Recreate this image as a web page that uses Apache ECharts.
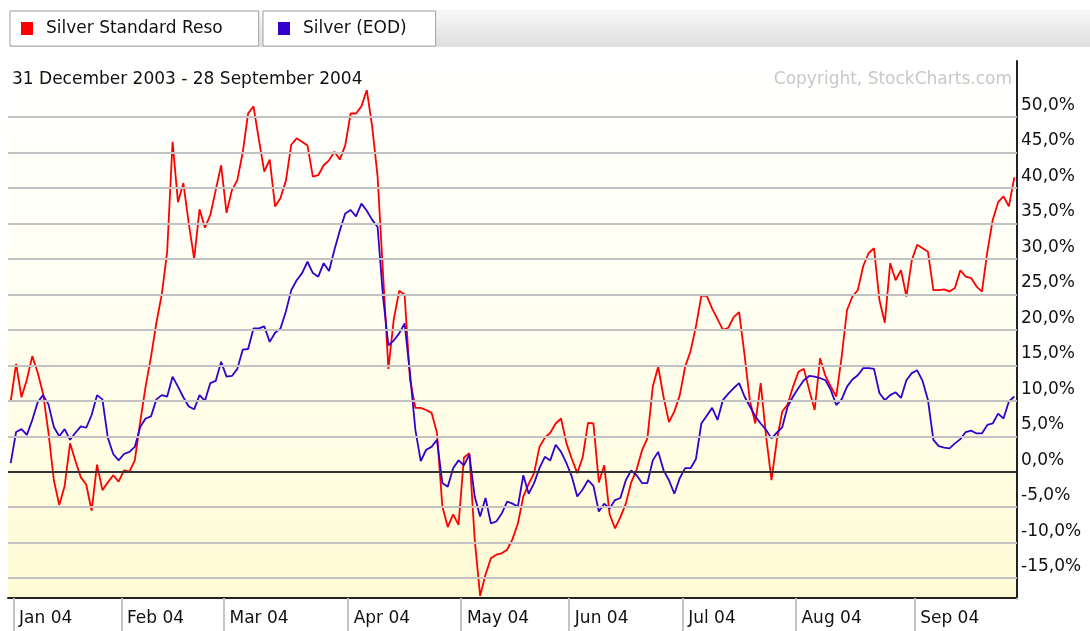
<!DOCTYPE html>
<html lang="en">
<head>
<meta charset="utf-8">
<title>Silver Standard vs Silver</title>
<style>
  * { margin: 0; padding: 0; }
  body { background: #fff; }
  #chart-container { width: 1090px; height: 631px; }
</style>
</head>
<body>
<div id="chart-container"></div>
<script src="https://cdn.jsdelivr.net/npm/echarts@6/dist/echarts.min.js"></script>
<script>
// trading days 31 Dec 2003 .. 28 Sep 2004 (NYSE holidays skipped)
var holidays = ['2004-01-01', '2004-01-19', '2004-02-16', '2004-04-09', '2004-05-31', '2004-06-11', '2004-07-05', '2004-09-06'];
var monthLabels = ['Jan 04', 'Feb 04', 'Mar 04', 'Apr 04', 'May 04', 'Jun 04', 'Jul 04', 'Aug 04', 'Sep 04'];
var yTicks = [-15, -10, -5, 0, 5, 10, 15, 20, 25, 30, 35, 40, 45, 50];

// % change
var silverStandard = [
  9.9, 15.2, 10.5, 13, 16.3, 14, 11, 5.5, -1.2, -4.7,
  -2, 4, 1.5, -0.8, -1.8, -5.5, 1, -2.6, -1.5, -0.5,
  -1.4, 0.2, 0, 1.6, 7, 12, 16.2, 21, 25, 31,
  46.5, 38, 40.7, 35, 30, 37, 34.4, 36.2, 39.7, 43.2,
  36.5, 39.7, 41.1, 45, 50.5, 51.5, 46.8, 42.3, 44, 37.4,
  38.6, 41, 46.1, 47, 46.5, 46, 41.6, 41.8, 43.2, 43.9,
  45.1, 44, 46, 50.5, 50.5, 51.5, 53.8, 48.6, 41.6, 28,
  14.5, 21.5, 25.5, 25, 13, 9, 9, 8.7, 8.3, 5.5,
  -4.9, -7.8, -6, -7.5, 2, 2.6, -9.6, -17.5, -14.5, -12.2,
  -11.7, -11.5, -11, -9.5, -7.3, -3.5, -1.7, -0.2, 3.5, 4.8,
  5.5, 6.8, 7.5, 4, 1.8, -0.2, 2, 6.9, 6.8, -1.5,
  0.9, -6, -8, -6.4, -4.5, -1.5, 0.3, 3, 4.7, 12,
  14.8, 10.5, 7, 8.5, 10.8, 14.8, 17, 20.5, 24.8, 24.8,
  23, 21.5, 20, 20.3, 21.8, 22.5, 16.5, 10, 6.8, 12.5,
  5, -1.2, 4.5, 8.5, 9.5, 12, 14.1, 14.5, 11.5, 8.7,
  16, 13.5, 12, 10.6, 16.2, 22.8, 24.7, 25.6, 29, 30.8,
  31.5, 24.2, 21, 29.4, 27, 28.4, 24.7, 29.8, 32, 31.5,
  31, 25.6, 25.6, 25.7, 25.4, 25.9, 28.4, 27.5, 27.3, 26.1,
  25.4, 31, 35.5, 38, 38.8, 37.4, 41.5
];
var silverEod = [
  1.2, 5.6, 6, 5.2, 7.3, 9.8, 10.8, 9.5, 6.3, 5,
  6, 4.5, 5.5, 6.4, 6.2, 8, 10.8, 10.2, 4.8, 2.5,
  1.6, 2.5, 2.8, 3.5, 6.3, 7.5, 7.8, 10.2, 10.8, 10.6,
  13.4, 12, 10.5, 9.2, 8.8, 10.8, 10, 12.5, 12.8, 15.5,
  13.4, 13.5, 14.5, 17.2, 17.3, 20.2, 20.2, 20.5, 18.3, 19.6,
  20.2, 22.6, 25.6, 27, 28, 29.6, 28, 27.5, 29.4, 28.3,
  31.3, 34, 36.4, 36.9, 36, 37.8, 36.8, 35.5, 34.5, 24.7,
  17.8, 18.5, 19.5, 20.9, 13.9, 5.9, 1.5, 3.1, 3.5, 4.5,
  -1.6, -2.1, 0.5, 1.6, 0.9, 2.4, -3.5, -6.3, -3.7, -7.3,
  -7, -5.9, -4.2, -4.5, -4.9, -0.5, -3.1, -1.6, 0.5, 2.1,
  1.6, 3.8, 2.8, 1.2, -0.7, -3.5, -2.5, -1.2, -2, -5.6,
  -4.5, -5.2, -4, -3.7, -1.2, 0.2, -0.5, -1.6, -1.6, 1.6,
  2.8, 0.2, -1.2, -3.1, -0.9, 0.5, 0.5, 1.8, 6.8, 7.9,
  9, 7.3, 10.1, 11, 11.8, 12.5, 10.6, 9.2, 7.8, 6.8,
  5.9, 4.7, 5.5, 6.3, 9.2, 10.6, 11.8, 12.9, 13.5, 13.4,
  13.2, 12.9, 11.5, 9.4, 10.2, 12, 13, 13.6, 14.6, 14.6,
  14.5, 11.1, 10.1, 10.8, 11.2, 10.4, 12.9, 13.9, 14.3, 12.8,
  10.1, 4.5, 3.6, 3.4, 3.3, 4, 4.6, 5.6, 5.8, 5.4,
  5.4, 6.6, 6.8, 8.2, 7.5, 9.9, 10.6
];

function pad(n) { return n < 10 ? '0' + n : '' + n; }
var dates = [];
var d = new Date(Date.UTC(2003, 11, 31));
var end = new Date(Date.UTC(2004, 8, 28));
while (d <= end) {
  var s = d.getUTCFullYear() + '-' + pad(d.getUTCMonth() + 1) + '-' + pad(d.getUTCDate());
  var wd = d.getUTCDay();
  if (wd !== 0 && wd !== 6 && holidays.indexOf(s) < 0) dates.push(s);
  d.setUTCDate(d.getUTCDate() + 1);
}
// first trading day of each month
var monthStart = {};
for (var i = 1; i < dates.length; i++) {
  if (dates[i].slice(5, 7) !== dates[i - 1].slice(5, 7)) {
    monthStart[i] = monthLabels[parseInt(dates[i].slice(5, 7), 10) - 1];
  }
}
function isMonthStart(idx) { return monthStart[idx] !== undefined; }

var FONT = 'DejaVu Sans';

var dom = document.getElementById('chart-container');
var myChart = echarts.init(dom, null, { renderer: 'canvas' });

var option = {
  animation: false,
  textStyle: { fontFamily: FONT },
  graphic: [
    {
      type: 'rect',
      z: 0,
      shape: { x: 10, y: 10, width: 1080, height: 37 },
      style: {
        fill: new echarts.graphic.LinearGradient(0, 0, 0, 1, [
          { offset: 0, color: '#f8f8f8' },
          { offset: 1, color: '#dedede' }
        ])
      }
    },
    {
      // hide the closing boundary tick under the right axis
      type: 'rect',
      z: 100,
      shape: { x: 1013, y: 600, width: 10, height: 31 },
      style: { fill: '#fff' }
    }
  ],
  title: [
    {
      text: '31 December 2003 - 28 September 2004',
      left: 12,
      top: 71,
      padding: 0,
      textStyle: { fontFamily: FONT, fontSize: 17, fontWeight: 'normal', color: '#111' }
    },
    {
      text: 'Copyright, StockCharts.com',
      right: 78,
      top: 71,
      padding: 0,
      textStyle: { fontFamily: FONT, fontSize: 17, fontWeight: 'normal', color: '#c8c8c8' }
    }
  ],
  legend: [
    {
      data: ['Silver Standard Reso'],
      left: 10,
      top: 11,
      icon: 'rect',
      itemWidth: 12,
      itemHeight: 13,
      padding: [9, 36, 9, 11],
      backgroundColor: '#fff',
      borderColor: '#a0a0a0',
      borderWidth: 1,
      textStyle: { fontFamily: FONT, fontSize: 17, color: '#111', padding: [0, 0, 0, 8] }
    },
    {
      data: ['Silver (EOD)'],
      left: 263,
      top: 11,
      icon: 'rect',
      itemWidth: 12,
      itemHeight: 13,
      padding: [9, 29, 9, 15],
      backgroundColor: '#fff',
      borderColor: '#a0a0a0',
      borderWidth: 1,
      textStyle: { fontFamily: FONT, fontSize: 17, color: '#111', padding: [0, 0, 0, 8] }
    }
  ],
  grid: {
    left: 8,
    right: 73,
    top: 61,
    bottom: 33,
    show: true,
    borderWidth: 0,
    backgroundColor: new echarts.graphic.LinearGradient(0, 0, 0, 1, [
      { offset: 0, color: '#ffffff' },
      { offset: 0.45, color: '#fffff2' },
      { offset: 1, color: '#fffbd4' }
    ])
  },
  xAxis: {
    type: 'category',
    boundaryGap: true,
    data: dates,
    axisLine: { onZero: false, lineStyle: { color: '#222', width: 2 } },
    axisTick: {
      show: true,
      interval: function (idx) { return isMonthStart(idx); },
      length: 33,
      lineStyle: { color: '#c4c4c4', width: 2 }
    },
    axisLabel: {
      interval: function (idx) { return isMonthStart(idx); },
      formatter: function (val, idx) { return monthStart[idx] || ''; },
      align: 'left',
      margin: 12,
      padding: [0, 0, 0, 3],
      fontFamily: FONT,
      fontSize: 17,
      color: '#111'
    },
    splitLine: { show: false }
  },
  yAxis: {
    type: 'value',
    position: 'right',
    min: -17.8,
    max: 57.9,
    splitNumber: 15,
    axisLine: { show: true, lineStyle: { color: '#222', width: 2 } },
    axisTick: { show: false },
    splitLine: { show: false },
    axisLabel: {
      customValues: yTicks,
      margin: 4,
      verticalAlign: 'bottom',
      padding: [0, 0, 3, 0],
      fontFamily: FONT,
      fontSize: 17,
      color: '#111',
      formatter: function (v) {
        var r = Math.round(v * 10) / 10;
        if (yTicks.indexOf(r) < 0) return '';
        return r.toFixed(1).replace('.', ',') + '%';
      }
    }
  },
  series: [
    {
      name: 'grid',
      type: 'line',
      data: [],
      z: 1,
      silent: true,
      markLine: {
        silent: true,
        symbol: 'none',
        label: { show: false },
        animation: false,
        data: yTicks.map(function (v) {
          return {
            yAxis: v,
            lineStyle: { color: v === 0 ? '#333' : '#c2c2c2', width: 2, type: 'solid' }
          };
        })
      }
    },
    {
      name: 'Silver Standard Reso',
      type: 'line',
      data: silverStandard,
      symbol: 'none',
      z: 3,
      itemStyle: { color: '#ff0000' },
      lineStyle: { color: '#ff0000', width: 1.8 }
    },
    {
      name: 'Silver (EOD)',
      type: 'line',
      data: silverEod,
      symbol: 'none',
      z: 4,
      itemStyle: { color: '#3300cc' },
      lineStyle: { color: '#3300cc', width: 1.8 }
    }
  ]
};

myChart.setOption(option);
window.addEventListener('resize', myChart.resize);
</script>
</body>
</html>
